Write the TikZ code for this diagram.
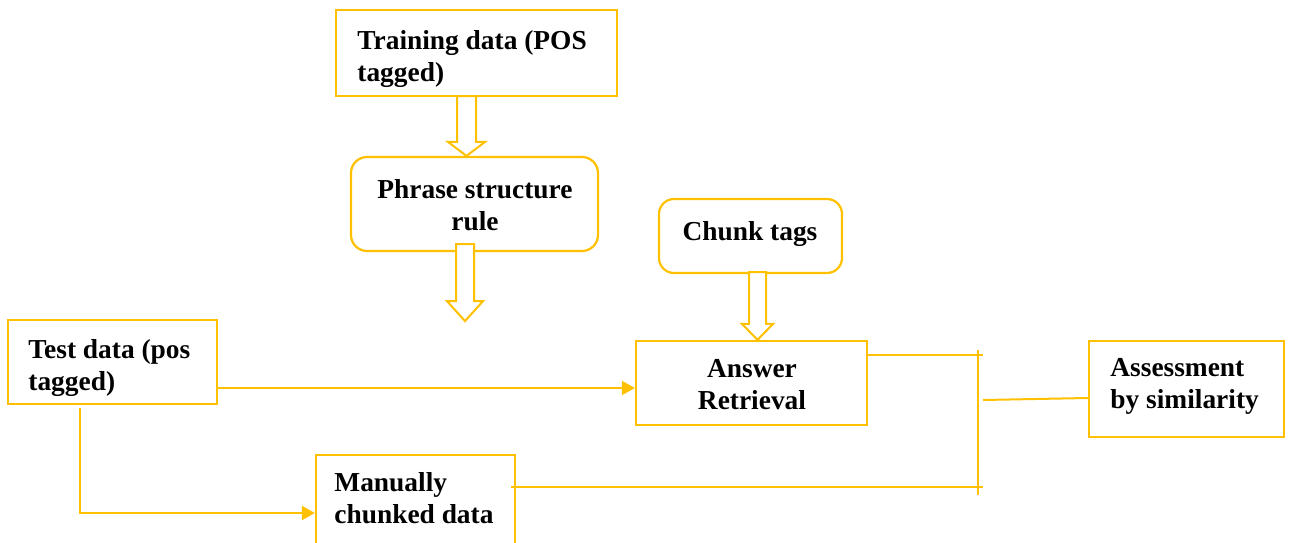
\documentclass[tikz,border=0pt]{standalone}
\usepackage{fontspec}
\setmainfont{Liberation Serif}
\usetikzlibrary{calc,arrows.meta}
\definecolor{gold}{HTML}{FFC000}
\tikzset{
  box/.style={draw=gold, line width=1.1pt, fill=white, inner sep=0pt},
  rbox/.style={box, rounded corners=8pt},
  lbl/.style={font=\fontsize{13.7}{16}\selectfont\bfseries, inner sep=0pt, text=black},
  flow/.style={draw=gold, line width=1pt},
  flowarr/.style={flow, -{Triangle[length=6.5pt,width=7pt]}},
  blk/.style={draw=gold, line width=1pt, fill=white, line join=miter},
}
% hollow downward block arrow: #1 start, #2 tip, #3 shaft half-width,
% #4 head half-width, #5 head length
\newcommand\blockdown[5]{%
  \draw[blk] ($(#1)+(-#3,0)$) -- ($(#2)+(-#3,-#5)$) -- ($(#2)+(-#4,-#5)$)
    -- (#2) -- ($(#2)+(#4,-#5)$) -- ($(#2)+(#3,-#5)$) -- ($(#1)+(#3,0)$) -- cycle;}
\begin{document}
\begin{tikzpicture}[x=0.5pt,y=-0.5pt]
\useasboundingbox (0,0) rectangle (1303,542);

% boxes
\node[box,  minimum width=140.5pt, minimum height=43pt] (train)  at (476.5,53) {};
\node[rbox, minimum width=123.5pt, minimum height=47pt] (phrase) at (474.5,204) {};
\node[rbox, minimum width=91.5pt,  minimum height=37pt, rounded corners=7.5pt] (chunk) at (750.5,236) {};
\node[box,  minimum width=115.5pt, minimum height=42pt] (answer) at (751.5,383) {};
\node[box,  minimum width=104.5pt, minimum height=42pt] (test)   at (112.5,362) {};
\node[box,  minimum width=99.5pt,  minimum height=52.5pt] (manual) at (415.5,507.5) {};
\node[box,  minimum width=97.5pt,  minimum height=48pt] (assess) at (1186.5,389) {};

% hollow block arrows
\coordinate (a1s) at ($(train.south)+(-10,-1)$);
\coordinate (a1e) at (a1s |- phrase.north);
\blockdown{a1s}{a1e}{9.5}{18.5}{14}
\coordinate (a2s) at ($(phrase.south)+(-9.5,-8)$);
\coordinate (a2e) at ($(a2s)+(0,77)$);
\blockdown{a2s}{a2e}{9}{18}{20}
\coordinate (a3s) at ($(chunk.south)+(7,-2)$);
\coordinate (a3e) at (a3s |- answer.north);
\blockdown{a3s}{a3e}{8.5}{15.5}{16}

% connectors
\draw[flowarr] ($(test.east)+(0,26)$) -- ($(answer.west)+(0,5)$);
\draw[flowarr] ($(test.south)+(-32.5,3)$) |- ($(manual.west)+(0,5.5)$);

\coordinate (bt) at (978,350);
\coordinate (bb) at (978,495);
\draw[flow] (bt) -- (bb);
\draw[flow] ($(answer.east)+(0,-28)$) -- ($(bt)+(5,5)$);
\draw[flow] ($(manual.east)+(-5,-20.5)$) -- ($(bb)+(5,-8)$);
\draw[flow] ($(bt)+(5,50)$) -- ($(assess.west)+(0,9)$);

% labels
\node[lbl, align=left, anchor=west]  (train-t)  at (357,59)  {Training data (POS\\tagged)};
\node[lbl, align=center]             (phrase-t) at (475,205) {Phrase structure\\rule};
\node[lbl]                           (chunk-t)  at (750,234) {Chunk tags};
\node[lbl, align=center]             (answer-t) at (752,385) {Answer\\Retrieval};
\node[lbl, align=left, anchor=west]  (test-t)   at (28,368)  {Test data (pos\\tagged)};
\node[lbl, align=left, anchor=west]  (manual-t) at (334,498) {Manually\\chunked data};
\node[lbl, align=left, anchor=west]  (assess-t) at (1110,386) {Assessment\\by similarity};
\end{tikzpicture}
\end{document}
